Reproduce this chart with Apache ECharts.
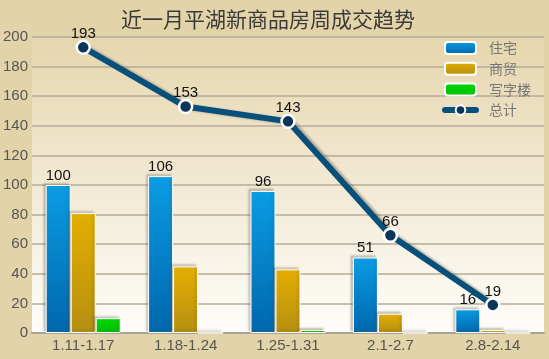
<!DOCTYPE html>
<html><head><meta charset="utf-8">
<script src="https://cdn.jsdelivr.net/npm/echarts@6/dist/echarts.min.js"></script>
<style>html,body{margin:0;padding:0;background:#e3d3a8;}#c{width:549px;height:359px;}</style>
</head><body><div id="c"></div>
<script>
var categories = ['1.11-1.17','1.18-1.24','1.25-1.31','2.1-2.7','2.8-2.14'];
var residential = [100,106,96,51,16];
var commercial = [81,45,43,13,2];
var office = [10,0,2,0,0];
var total = [193,153,143,66,19];
var yTicks = {min:0, max:200, interval:20};

var chart = echarts.init(document.getElementById('c'));
function grad(a,b){return new echarts.graphic.LinearGradient(0,0,0,1,[{offset:0,color:a},{offset:1,color:b}]);}
var barBase = {type:'bar', barWidth:25, barGap:'0%'};
var itemCommon = {borderColor:'#ffffff', borderWidth:1, shadowColor:'rgba(90,80,60,0.3)', shadowBlur:2, shadowOffsetX:-2, shadowOffsetY:-2};
chart.setOption({
  backgroundColor:'#e3d3a8',
  animation:false,
  title:{text:'近一月平湖新商品房周成交趋势', left:263, textAlign:'center', top:4,
    textStyle:{fontFamily:'Noto Sans CJK SC', fontSize:21, fontWeight:'normal', color:'#3a3a3a'}},
  legend:{orient:'vertical', left:437, top:36, itemWidth:31, itemHeight:12, itemGap:6.7,
    textStyle:{fontFamily:'Noto Sans CJK SC', fontSize:14, color:'#777', lineHeight:12, padding:[0,0,0,8]},
    data:['住宅','商贸','写字楼',{name:'总计', lineStyle:{width:6, cap:'round'}}]},
  grid:{left:32, right:5, top:37, bottom:26, show:true, borderWidth:0,
    backgroundColor:grad('#e6d6ae','#fefdfa')},
  xAxis:{type:'category', data:categories,
    axisLine:{lineStyle:{color:'#aaa398', width:2}}, axisTick:{show:false},
    axisLabel:{fontFamily:'Liberation Sans', fontSize:15, color:'#555', margin:5}},
  yAxis:{type:'value', min:yTicks.min, max:yTicks.max, interval:yTicks.interval,
    axisLine:{show:false}, axisTick:{show:false},
    splitLine:{lineStyle:{color:'#b5ab99', width:1.5}},
    axisLabel:{fontFamily:'Liberation Sans', fontSize:15, color:'#555', margin:4}},
  series:[
    Object.assign({}, barBase, {name:'住宅', data:residential,
      itemStyle:Object.assign({color:grad('#0a9ce4','#0067ad')}, itemCommon),
      label:{show:true, position:'top', distance:2, fontFamily:'Liberation Sans', fontSize:15, color:'#111'}}),
    Object.assign({}, barBase, {name:'商贸', data:commercial,
      itemStyle:Object.assign({color:grad('#e4ae00','#b58f12')}, itemCommon)}),
    Object.assign({}, barBase, {name:'写字楼', data:office,
      itemStyle:Object.assign({color:grad('#00d800','#00c000')}, itemCommon)}),
    {name:'总计', type:'line', data:total, symbol:'circle', symbolSize:13,
      lineStyle:{color:'#08507c', width:6, shadowColor:'rgba(110,100,85,0.45)', shadowBlur:2, shadowOffsetX:4, shadowOffsetY:1},
      itemStyle:{color:'#0b3559', borderColor:'#ffffff', borderWidth:2.5},
      label:{show:true, position:'top', distance:-2, fontFamily:'Liberation Sans', fontSize:15, color:'#111'},
      z:5}
  ]
});
</script></body></html>
